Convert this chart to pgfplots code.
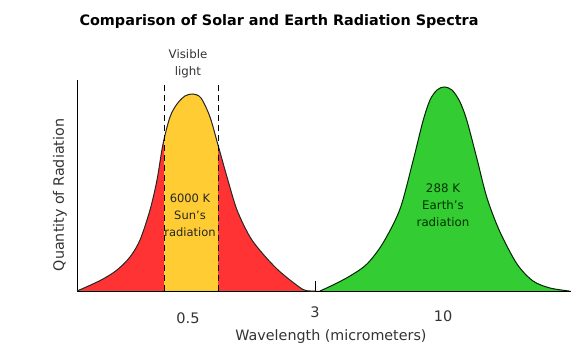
\documentclass[border=0pt]{standalone}
\usepackage{fontspec}
\setmainfont{DejaVu Sans}
\usepackage{pgfplots}
\usepackage{pgfplotstable}
\pgfplotsset{compat=1.18}
\usepgfplotslibrary{fillbetween}
\definecolor{sunred}{HTML}{FF3333}
\definecolor{visyellow}{HTML}{FFCC33}
\definecolor{earthgreen}{HTML}{33CC33}
\definecolor{txt}{HTML}{333333}
\pgfplotstableread{
x y
0 0
13 5.7
26 12
40 21
53 34
63 51
73 81
80 111
86 147
93 174
100 187
108 195
116 197
124 193
133 174
141 146
150 114
160 81
173 54
186 37
200 22
213 11
226 1.5
233 0
238 0
}\suntab
\pgfplotstableread{
x y
243 0
256 6
273 15
290 27
306 48
323 82
336 130
346 170
353 191
360 201
367 204
375 201
383 189
390 170
400 132
410 93
423 59
440 27
456 10
473 3
492 0
}\earthtab
\begin{document}
\begin{tikzpicture}
\begin{axis}[
  at={(77pt,60pt)}, anchor=south west,
  scale only axis, width=494pt, height=211pt,
  xmin=0, xmax=494, ymin=0, ymax=211,
  axis lines=left,
  axis line style={-, black, line width=0.9pt},
  xtick={111,238,366}, xticklabels={,,},
  ytick=\empty,
  tick align=inside,
  major tick length=10pt,
  tick style={black, line width=0.7pt},
  clip=false,
]
\addplot[name path=sun, draw=none, smooth] table {\suntab};
\addplot[name path=earth, draw=none, smooth] table {\earthtab};
\addplot[name path=base, draw=none] coordinates {(0,0) (494,0)};
\addplot[sunred] fill between[of=sun and base];
\addplot[visyellow] fill between[of=sun and base, soft clip={domain=87:141}];
\addplot[earthgreen] fill between[of=earth and base];
\addplot[black!85, line width=1pt, smooth] table {\suntab};
\addplot[black!85!green, line width=1pt, smooth] table {\earthtab};
\addplot[black, line width=0.8pt, dash pattern=on 6pt off 4pt] coordinates {(87,0) (87,209)};
\addplot[black, line width=0.8pt, dash pattern=on 6pt off 4pt] coordinates {(141,0) (141,209)};
% texts
\node[font=\bfseries\fontsize{14.4}{16}\selectfont, black] at (axis cs:202,269) {Comparison of Solar and Earth Radiation Spectra};
\node[font=\fontsize{11.8}{17}\selectfont, txt, align=center] at (axis cs:111,227) {Visible\\light};
\node[font=\fontsize{11.5}{17}\selectfont, black!85, align=center] at (axis cs:113,76) {6000 K\\Sun's\\radiation};
\node[font=\fontsize{11.8}{17}\selectfont, black!80!green, align=center] at (axis cs:366,86) {288 K\\Earth's\\radiation};
\node[font=\fontsize{14.5}{16}\selectfont, txt] at (axis cs:111,-27) {0.5};
\node[font=\fontsize{14.5}{16}\selectfont, txt] at (axis cs:238,-21) {3};
\node[font=\fontsize{14.5}{16}\selectfont, txt] at (axis cs:366,-25) {10};
\node[font=\fontsize{14.3}{16}\selectfont, txt] at (axis cs:254,-46) {Wavelength (micrometers)};
\node[font=\fontsize{14.3}{16}\selectfont, txt, rotate=90] at (axis cs:-17,96) {Quantity of Radiation};
\end{axis}
\pgfresetboundingbox
\path[use as bounding box] (0pt,0pt) rectangle (587pt,351pt);
\end{tikzpicture}
\end{document}
